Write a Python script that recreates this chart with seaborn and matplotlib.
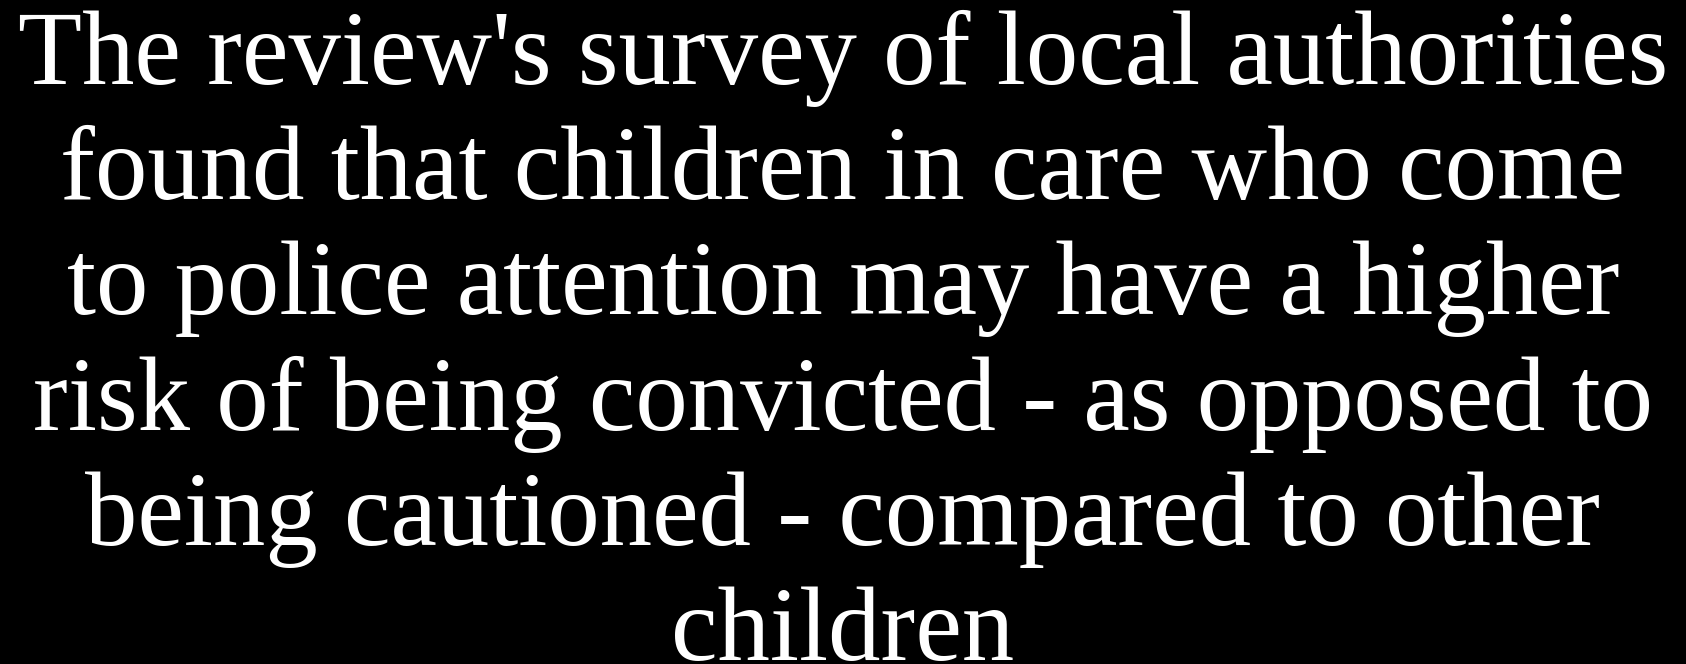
import matplotlib
matplotlib.use("Agg")
import matplotlib.pyplot as plt
import seaborn as sns

# text lines of the slide
lines = [
    "The review's survey of local authorities",
    "found that children in care who come",
    "to police attention may have a higher",
    "risk of being convicted - as opposed to",
    "being cautioned - compared to other",
    "children",
]
# baselines in pixels from the top
baselines = [84, 199, 314, 430, 545, 660]

sns.set_theme(style="dark")
plt.rcParams["font.family"] = ["Liberation Serif", "DejaVu Serif"]

W, H = 1686, 664
fig = plt.figure(figsize=(W / 100, H / 100), dpi=100, facecolor="black")
ax = fig.add_axes([0, 0, 1, 1])
ax.set_facecolor("black")
ax.set_xlim(0, W)
ax.set_ylim(H, 0)
ax.axis("off")

# fit font size so first line spans about 1650 px
fig.canvas.draw()
r = fig.canvas.get_renderer()
t = ax.text(0, 0, lines[0], fontsize=100)
w = t.get_window_extent(renderer=r).width
t.remove()
fs = 100 * 1650 / w

for txt, y in zip(lines, baselines):
    ax.text(W / 2, y, txt, color="white", fontsize=fs, ha="center", va="baseline")

fig.savefig("out.png", dpi=100, facecolor="black")
